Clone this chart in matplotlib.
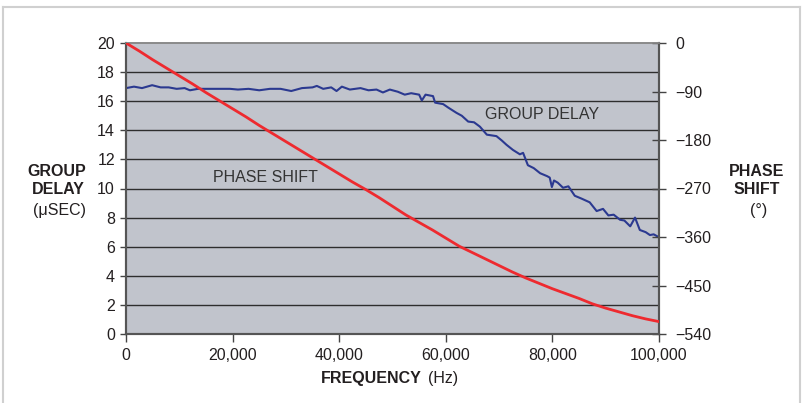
import matplotlib
matplotlib.use("Agg")
import matplotlib.pyplot as plt
from matplotlib.lines import Line2D

plt.rcParams['font.family'] = ['Liberation Sans', 'DejaVu Sans']

# ---- data ----
phase_freq = [0, 2500, 5000, 7500, 10000, 12500, 15000, 17500, 20000, 22500,
              25000, 27500, 30000, 32500, 35000, 37500, 40000, 42500, 45000, 47500,
              50000, 52500, 55000, 57500, 60000, 62500, 65000, 67500, 70000, 72500,
              75000, 77500, 80000, 82500, 85000, 87500, 90000, 92500, 95000, 97500, 100000]
phase_deg = [0, -15, -31, -46, -61, -76, -92, -107, -122, -137,
             -153, -168, -183, -198, -213, -228, -243, -258, -272, -287,
             -303, -319, -333, -347, -362, -377, -389, -401, -413, -425,
             -436, -446, -456, -465, -474, -484, -492, -499, -506, -512, -517]

delay_freq_khz = [0, 1.5, 3, 4.9, 6.5, 8, 9.5, 11, 12, 13.5, 19.5, 21, 23, 25, 27, 29, 31, 33,
                  35, 35.8, 37, 38.5, 39.5, 40.5, 42, 44, 45.5, 47, 48.2, 49.5, 51, 52.3,
                  53.5, 55, 55.5, 56.2, 57.6, 58, 59.5, 60.5, 62, 63, 64.2, 65.3, 66.4,
                  67.7, 69.5, 70.5, 71.4, 72.6, 73.9, 74.5, 75.4, 76.5, 77.7, 79, 79.5,
                  79.9, 80.3, 81, 82, 83, 84.2, 85.5, 87, 88.3, 89.5, 90.5, 91.5, 92.7,
                  93.5, 94.6, 95.5, 96.4, 97.5, 98.3, 99, 100]
delay_usec = [16.9, 17.0, 16.9, 17.1, 16.95, 16.95, 16.85, 16.9, 16.75, 16.85, 16.85, 16.8,
              16.85, 16.75, 16.85, 16.85, 16.7, 16.9, 16.95, 17.05, 16.85, 16.95, 16.7,
              17.0, 16.8, 16.9, 16.75, 16.8, 16.6, 16.8, 16.65, 16.45, 16.55, 16.45, 16.05,
              16.45, 16.35, 15.9, 15.8, 15.55, 15.2, 15.0, 14.6, 14.55, 14.25, 13.7, 13.6,
              13.3, 13.0, 12.65, 12.35, 12.45, 11.6, 11.4, 11.05, 10.85, 10.75, 10.1, 10.55,
              10.4, 10.05, 10.15, 9.5, 9.3, 9.05, 8.45, 8.6, 8.15, 8.2, 7.85, 7.8, 7.4, 8.0,
              7.15, 7.0, 6.8, 6.85, 6.65]

x_ticks = [0, 20000, 40000, 60000, 80000, 100000]
x_tick_labels = ["0", "20,000", "40,000", "60,000", "80,000", "100,000"]
left_ticks = [0, 2, 4, 6, 8, 10, 12, 14, 16, 18, 20]
right_ticks = [0, -90, -180, -270, -360, -450, -540]
right_tick_labels = ["0", "\u221290", "\u2212180", "\u2212270", "\u2212360", "\u2212450", "\u2212540"]

W, H = 802, 403
fig = plt.figure(figsize=(W / 100, H / 100), dpi=100)
fig.patch.set_facecolor('white')

def fx(x):
    return x / W

def fy(y):
    return 1 - y / H

L, R, T, B = 126, 659, 43, 334
ax = fig.add_axes([fx(L), fy(B), (R - L) / W, (B - T) / H])
ax.set_facecolor('#c1c4cc')
ax2 = ax.twinx()

FS = 11.5
TXT = '#231f20'

# gridlines
for v in left_ticks[1:-1]:
    ax.axhline(v, color='#2e2e2e', lw=1.0, zorder=1)

delay_freq = [f * 1000 for f in delay_freq_khz]
ax.plot(delay_freq, delay_usec, color='#2b3990', lw=1.5, zorder=3)
ax2.plot(phase_freq, phase_deg, color='#ee2a2f', lw=2.0, zorder=3)

ax.set_xlim(0, 100000)
ax.set_ylim(0, 20)
ax2.set_ylim(-540, 0)

ax.set_xticks(x_ticks)
ax.set_xticklabels(x_tick_labels)
ax.set_yticks(left_ticks)
ax.set_yticklabels([str(v) for v in left_ticks])
ax2.set_yticks(right_ticks)
ax2.set_yticklabels(right_tick_labels)

ax.tick_params(axis='x', direction='out', length=6, width=1, colors='#444444',
               labelcolor=TXT, labelsize=FS, pad=4)
ax.tick_params(axis='y', direction='out', length=4, width=1, colors='#444444',
               labelcolor=TXT, labelsize=FS, pad=4)
ax2.tick_params(axis='y', direction='inout', length=10, width=1, colors='#444444',
                labelcolor=TXT, labelsize=FS, pad=7)

for a in (ax, ax2):
    a.spines['top'].set_color('#8a8a8a')
    a.spines['top'].set_linewidth(1.2)
    a.spines['left'].set_color('#555555')
    a.spines['left'].set_linewidth(1.5)
    a.spines['right'].set_color('#555555')
    a.spines['right'].set_linewidth(1.5)
    a.spines['bottom'].set_color('#555555')
    a.spines['bottom'].set_linewidth(1.5)

# in-plot annotations
fig.text(fx(265), fy(177), "PHASE SHIFT", ha='center', va='center', fontsize=FS, color='#333333')
fig.text(fx(542), fy(115), "GROUP DELAY", ha='center', va='center', fontsize=FS, color='#333333')

# axis labels
fig.text(fx(57), fy(172), "GROUP", ha='center', va='center', fontsize=FS, fontweight='bold', color=TXT)
fig.text(fx(58), fy(190), "DELAY", ha='center', va='center', fontsize=FS, fontweight='bold', color=TXT)
fig.text(fx(59), fy(210), "(\u03bcSEC)", ha='center', va='center', fontsize=FS, color=TXT)
fig.text(fx(757), fy(172), "PHASE", ha='center', va='center', fontsize=FS, fontweight='bold', color=TXT)
fig.text(fx(757), fy(190), "SHIFT", ha='center', va='center', fontsize=FS, fontweight='bold', color=TXT)
fig.text(fx(759), fy(210), "(\u00b0)", ha='center', va='center', fontsize=FS, color=TXT)
fig.text(fx(321), fy(378), "FREQUENCY", ha='left', va='center', fontsize=FS, fontweight='bold', color=TXT)
fig.text(fx(428), fy(378), "(Hz)", ha='left', va='center', fontsize=FS, color=TXT)

# figure border
bc = '#d0d0d0'
fig.add_artist(Line2D([fx(2.5), fx(2.5)], [fy(7), 0], transform=fig.transFigure, color=bc, lw=1.5))
fig.add_artist(Line2D([fx(2.5), fx(800)], [fy(7), fy(7)], transform=fig.transFigure, color=bc, lw=1.5))
fig.add_artist(Line2D([fx(800), fx(800)], [fy(7), 0], transform=fig.transFigure, color=bc, lw=1.5))

fig.savefig("out.png", dpi=100, facecolor='white')
